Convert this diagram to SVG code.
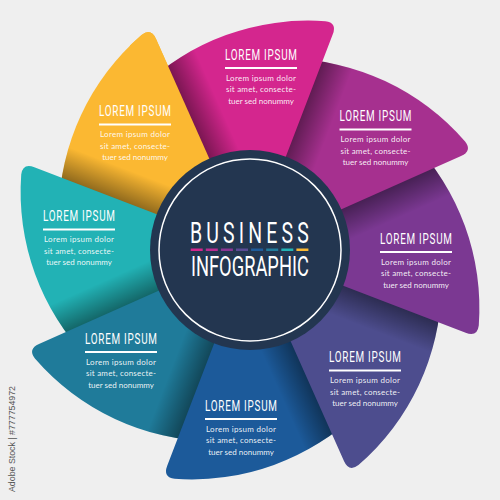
<svg xmlns="http://www.w3.org/2000/svg" xmlns:xlink="http://www.w3.org/1999/xlink" width="500" height="500" viewBox="0 0 500 500">
  <defs>
    <path id="petalShape" d="M0,0 L231,0 Q243.5,0 240.6,-11.6 A240,240 0 0 0 111.9,-159.7 Z"/>
    <linearGradient id="shade" gradientUnits="userSpaceOnUse" x1="0" y1="0" x2="22" y2="22">
      <stop offset="0" stop-color="#000" stop-opacity="0.42"/>
      <stop offset="1" stop-color="#000" stop-opacity="0"/>
    </linearGradient>
    <clipPath id="clipYellowTop">
      <rect x="130" y="0" width="130" height="190"/>
    </clipPath>
    <style>
      .shade { fill: url(#shade); }
      .title { font-family: Roboto, "Liberation Sans", sans-serif; font-weight: 400; font-size: 15px; fill: #fff; }
      .body { font-family: Lato, "Open Sans", sans-serif; font-size: 8px; fill: #fff; fill-opacity: 0.92; }
      .bar { fill: #fff; }
      .big { font-family: Roboto, "Liberation Sans", sans-serif; font-weight: 400; fill: #fff; }
      .wm { font-family: "Liberation Sans", Arial, sans-serif; font-size: 8.5px; fill: #555; }
    </style>
  </defs>
  <rect width="500" height="500" fill="#efefef"/>

  <!-- petals (each overlaps its clockwise neighbour) -->
  <g id="petal-yellow">
    <g id="yellow-shape" transform="translate(250,250) rotate(-114)">
      <use xlink:href="#petalShape" href="#petalShape" fill="#fbb832"/>
      <use xlink:href="#petalShape" href="#petalShape" class="shade"/>
    </g>
  </g>
  <g id="petal-teal">
    <g transform="translate(250,250) rotate(201)">
      <use xlink:href="#petalShape" href="#petalShape" fill="#22b2b5"/>
      <use xlink:href="#petalShape" href="#petalShape" class="shade"/>
    </g>
    <text class="title" transform="translate(43,221) scale(0.66,1)" textLength="109" lengthAdjust="spacing">LOREM IPSUM</text>
    <rect class="bar" x="43" y="228.5" width="72" height="2"/>
    <text class="body" x="44" y="242" textLength="70" lengthAdjust="spacing">Lorem ipsum dolor</text>
    <text class="body" x="44" y="253.5" textLength="70" lengthAdjust="spacing">sit amet, consecte-</text>
    <text class="body" x="79" y="265" text-anchor="middle">tuer sed nonummy</text>
  </g>
  <g id="petal-tealblue">
    <g transform="translate(250,250) rotate(156)">
      <use xlink:href="#petalShape" href="#petalShape" fill="#1f7b9a"/>
      <use xlink:href="#petalShape" href="#petalShape" class="shade"/>
    </g>
    <text class="title" transform="translate(85,343.5) scale(0.66,1)" textLength="109" lengthAdjust="spacing">LOREM IPSUM</text>
    <rect class="bar" x="85" y="351" width="72" height="2"/>
    <text class="body" x="86" y="364.5" textLength="70" lengthAdjust="spacing">Lorem ipsum dolor</text>
    <text class="body" x="86" y="376" textLength="70" lengthAdjust="spacing">sit amet, consecte-</text>
    <text class="body" x="121" y="387.5" text-anchor="middle">tuer sed nonummy</text>
  </g>
  <g id="petal-blue">
    <g transform="translate(250,250) rotate(111)">
      <use xlink:href="#petalShape" href="#petalShape" fill="#1c5a9a"/>
      <use xlink:href="#petalShape" href="#petalShape" class="shade"/>
    </g>
    <text class="title" transform="translate(205,410.5) scale(0.66,1)" textLength="109" lengthAdjust="spacing">LOREM IPSUM</text>
    <rect class="bar" x="205" y="418" width="72" height="2"/>
    <text class="body" x="206" y="431.5" textLength="70" lengthAdjust="spacing">Lorem ipsum dolor</text>
    <text class="body" x="206" y="443" textLength="70" lengthAdjust="spacing">sit amet, consecte-</text>
    <text class="body" x="241" y="454.5" text-anchor="middle">tuer sed nonummy</text>
  </g>
  <g id="petal-indigo">
    <g transform="translate(250,250) rotate(66)">
      <use xlink:href="#petalShape" href="#petalShape" fill="#4d4d8e"/>
      <use xlink:href="#petalShape" href="#petalShape" class="shade"/>
    </g>
    <text class="title" transform="translate(329,362) scale(0.66,1)" textLength="109" lengthAdjust="spacing">LOREM IPSUM</text>
    <rect class="bar" x="329" y="369.5" width="72" height="2"/>
    <text class="body" x="330" y="383" textLength="70" lengthAdjust="spacing">Lorem ipsum dolor</text>
    <text class="body" x="330" y="394.5" textLength="70" lengthAdjust="spacing">sit amet, consecte-</text>
    <text class="body" x="365" y="406" text-anchor="middle">tuer sed nonummy</text>
  </g>
  <g id="petal-violet">
    <g transform="translate(250,250) rotate(21)">
      <use xlink:href="#petalShape" href="#petalShape" fill="#7b3892"/>
      <use xlink:href="#petalShape" href="#petalShape" class="shade"/>
    </g>
    <text class="title" transform="translate(380,243.5) scale(0.66,1)" textLength="109" lengthAdjust="spacing">LOREM IPSUM</text>
    <rect class="bar" x="380" y="251" width="72" height="2"/>
    <text class="body" x="381" y="264.5" textLength="70" lengthAdjust="spacing">Lorem ipsum dolor</text>
    <text class="body" x="381" y="276" textLength="70" lengthAdjust="spacing">sit amet, consecte-</text>
    <text class="body" x="416" y="287.5" text-anchor="middle">tuer sed nonummy</text>
  </g>
  <g id="petal-purple">
    <g transform="translate(250,250) rotate(-24)">
      <use xlink:href="#petalShape" href="#petalShape" fill="#a6308f"/>
      <use xlink:href="#petalShape" href="#petalShape" class="shade"/>
    </g>
    <text class="title" transform="translate(339.5,121) scale(0.66,1)" textLength="109" lengthAdjust="spacing">LOREM IPSUM</text>
    <rect class="bar" x="339.5" y="128.5" width="72" height="2"/>
    <text class="body" x="340.5" y="142" textLength="70" lengthAdjust="spacing">Lorem ipsum dolor</text>
    <text class="body" x="340.5" y="153.5" textLength="70" lengthAdjust="spacing">sit amet, consecte-</text>
    <text class="body" x="375.5" y="165" text-anchor="middle">tuer sed nonummy</text>
  </g>
  <g id="petal-magenta">
    <g transform="translate(250,250) rotate(-69)">
      <use xlink:href="#petalShape" href="#petalShape" fill="#d4268e"/>
      <use xlink:href="#petalShape" href="#petalShape" class="shade"/>
    </g>
    <text class="title" transform="translate(225,59.5) scale(0.66,1)" textLength="109" lengthAdjust="spacing">LOREM IPSUM</text>
    <rect class="bar" x="225" y="67" width="72" height="2"/>
    <text class="body" x="226" y="80.5" textLength="70" lengthAdjust="spacing">Lorem ipsum dolor</text>
    <text class="body" x="226" y="92" textLength="70" lengthAdjust="spacing">sit amet, consecte-</text>
    <text class="body" x="261" y="103.5" text-anchor="middle">tuer sed nonummy</text>
  </g>
  <!-- yellow again on top of magenta (closing the pinwheel cycle) -->
  <g id="petal-yellow-top">
    <use xlink:href="#yellow-shape" href="#yellow-shape" clip-path="url(#clipYellowTop)"/>
    <text class="title" transform="translate(99,116) scale(0.66,1)" textLength="109" lengthAdjust="spacing">LOREM IPSUM</text>
    <rect class="bar" x="99" y="123.5" width="72" height="2"/>
    <text class="body" x="100" y="137" textLength="70" lengthAdjust="spacing">Lorem ipsum dolor</text>
    <text class="body" x="100" y="148.5" textLength="70" lengthAdjust="spacing">sit amet, consecte-</text>
    <text class="body" x="135" y="160" text-anchor="middle">tuer sed nonummy</text>
  </g>

  <!-- centre -->
  <g id="center">
    <circle cx="250" cy="250" r="100" fill="#233650"/>
    <circle cx="250" cy="250" r="91" fill="none" stroke="#fff" stroke-width="1.5"/>
    <text class="big" transform="translate(190,243) scale(0.66,1)" font-size="29.5" textLength="180" lengthAdjust="spacing">BUSINESS</text>
    <g id="dashes">
      <rect x="190.7" y="248.5" width="12" height="2.5" fill="#d4268e"/>
      <rect x="205.8" y="248.5" width="12" height="2.5" fill="#b92c91"/>
      <rect x="220.9" y="248.5" width="12" height="2.5" fill="#8a3593"/>
      <rect x="236" y="248.5" width="12" height="2.5" fill="#5a4a94"/>
      <rect x="251.1" y="248.5" width="12" height="2.5" fill="#1f5c9b"/>
      <rect x="266.2" y="248.5" width="12" height="2.5" fill="#217c9c"/>
      <rect x="281.3" y="248.5" width="12" height="2.5" fill="#23b3b5"/>
      <rect x="296.4" y="248.5" width="12" height="2.5" fill="#fbb832"/>
    </g>
    <text class="big" transform="translate(191,276) scale(0.62,1)" font-size="28" textLength="190" lengthAdjust="spacingAndGlyphs">INFOGRAPHIC</text>
  </g>

  <text class="wm" transform="translate(15,492) rotate(-90)" textLength="106" lengthAdjust="spacingAndGlyphs">Adobe Stock | #777754972</text>
</svg>
